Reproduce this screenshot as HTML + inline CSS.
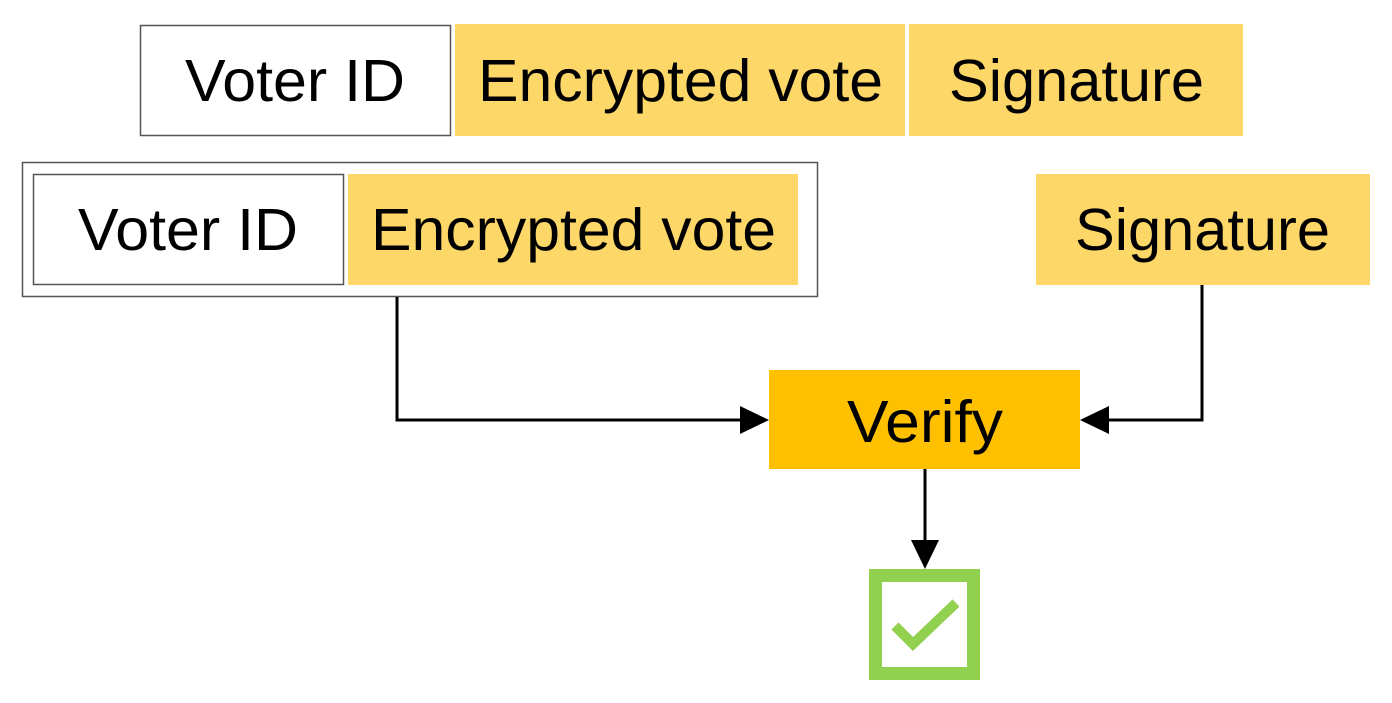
<!DOCTYPE html>
<html><head><style>html,body{margin:0;padding:0;background:#fff}svg{display:block}</style></head>
<body>
<svg width="1392" height="703" viewBox="0 0 1392 703" xmlns="http://www.w3.org/2000/svg" font-family="'Liberation Sans', sans-serif" font-size="59">
<rect x="140.5" y="25.5" width="310" height="110" fill="#fff" stroke="#555" stroke-width="1.5"/>
<rect x="455" y="24" width="450" height="112" fill="#fdd868"/>
<rect x="909" y="24" width="334" height="112" fill="#fdd868"/>
<text x="185" y="101" textLength="220" lengthAdjust="spacingAndGlyphs">Voter ID</text>
<text x="478" y="101" textLength="405" lengthAdjust="spacingAndGlyphs">Encrypted vote</text>
<text x="949" y="101" textLength="255" lengthAdjust="spacingAndGlyphs">Signature</text>

<rect x="22.5" y="162.5" width="795" height="134" fill="#fff" stroke="#555" stroke-width="1.5"/>
<rect x="33.5" y="174.5" width="310" height="110" fill="#fff" stroke="#555" stroke-width="1.5"/>
<rect x="348" y="174" width="450" height="111" fill="#fdd868"/>
<rect x="1036" y="174" width="334" height="111" fill="#fdd868"/>
<text x="78" y="250" textLength="220" lengthAdjust="spacingAndGlyphs">Voter ID</text>
<text x="371" y="250" textLength="405" lengthAdjust="spacingAndGlyphs">Encrypted vote</text>
<text x="1075" y="250" textLength="255" lengthAdjust="spacingAndGlyphs">Signature</text>

<rect x="769" y="370" width="311" height="99" fill="#ffc000"/>
<text x="847" y="442" textLength="156" lengthAdjust="spacingAndGlyphs">Verify</text>

<g stroke="#000" stroke-width="3" fill="none">
<polyline points="397,297 397,420 742,420"/>
<polyline points="1202,285 1202,420 1108,420"/>
<line x1="925" y1="469" x2="925" y2="542"/>
</g>
<polygon points="769,420 740,406 740,434" fill="#000"/>
<polygon points="1080,420 1109,406 1109,434" fill="#000"/>
<polygon points="925,569 911,540 939,540" fill="#000"/>

<rect x="875.5" y="575.5" width="98" height="98" fill="#fff" stroke="#92d050" stroke-width="13"/>
<polyline points="895,626 913,644 956,603" fill="none" stroke="#92d050" stroke-width="10"/>
</svg>
</body></html>
